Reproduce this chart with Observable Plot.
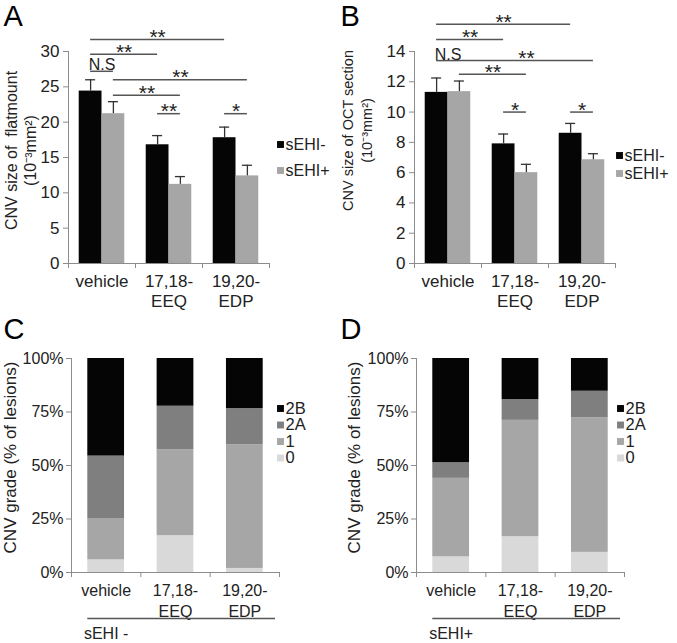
<!DOCTYPE html>
<html><head><meta charset="utf-8">
<script src="https://cdn.jsdelivr.net/npm/d3@7"></script>
<script src="https://cdn.jsdelivr.net/npm/@observablehq/plot@0.6"></script>
<style>
body{margin:0;background:#fff;}
#fig{position:relative;width:677px;height:643px;overflow:hidden;background:#fff;}
#fig svg{position:absolute;}
</style></head><body><div id="fig"></div>
<script>
// ---------- data ----------
const categories = ["vehicle", "17,18-EEQ", "19,20-EDP"];
const series = ["sEHI-", "sEHI+"];
const grades = ["0", "1", "2A", "2B"];
const gradeLegend = ["2B", "2A", "1", "0"];

// Panel A: CNV size of flatmount (10^-3 mm^2)
const flatMinus = [24.4, 16.8, 17.8];
const flatMinusErr = [1.6, 1.3, 1.5];
const flatPlus = [21.2, 11.2, 12.4];
const flatPlusErr = [1.7, 1.1, 1.5];
const flatTicks = [0, 5, 10, 15, 20, 25, 30];
// [category, series] -> [category, series], bracket level, label
const flatSig = [
  [0, 0, 2, 0, 31.7, "**"],
  [0, 0, 1, 0, 29.6, "**"],
  [0, 0, 0, 1, 27.2, "N.S"],
  [0, 1, 2, 1, 26.0, "**"],
  [0, 1, 1, 1, 23.8, "**"],
  [1, 0, 1, 1, 21.2, "**"],
  [2, 0, 2, 1, 21.2, "*"]
];

// Panel B: CNV size of OCT section (10^-3 mm^2)
const octMinus = [11.3, 7.9, 8.6];
const octMinusErr = [0.95, 0.65, 0.65];
const octPlus = [11.35, 6.0, 6.85];
const octPlusErr = [0.7, 0.55, 0.4];
const octTicks = [0, 2, 4, 6, 8, 10, 12, 14];
const octSig = [
  [0, 0, 2, 0, 15.8, "**"],
  [0, 0, 1, 0, 14.8, "**"],
  [0, 0, 0, 1, 13.4, "N.S"],
  [0, 1, 2, 1, 13.4, "**"],
  [0, 1, 1, 1, 12.5, "**"],
  [1, 0, 1, 1, 10.0, "*"],
  [2, 0, 2, 1, 10.0, "*"]
];

// Panel C: CNV grade, sEHI -  (% of lesions), per grade across categories
const cGrade0 = [5.9, 17.2, 1.9];
const cGrade1 = [19.1, 40.1, 57.8];
const cGrade2A = [29.4, 20.4, 16.9];
const cGrade2B = [45.6, 22.3, 23.4];
// Panel D: CNV grade, sEHI +
const dGrade0 = [7.3, 16.7, 9.4];
const dGrade1 = [36.7, 54.4, 62.9];
const dGrade2A = [7.3, 9.7, 12.4];
const dGrade2B = [48.7, 19.2, 15.3];
const pctTicks = [0, 25, 50, 75, 100];

// ---------- style ----------
const FONT = '"Liberation Sans", Arial, Helvetica, sans-serif';
const BLACK = "#050505", GRAY = "#a6a6a6", AX = "#8c8c8c", INK = "#222";
const GRADE_COLORS = ["#d9d9d9", "#a6a6a6", "#7f7f7f", "#050505"];
const BW = 0.34;   // bar width (category units), panels A/B
const CAP = 0.075; // error-bar cap half width
const SW = 0.53;   // stacked bar width, panels C/D
const center = (ci, si) => ci + 0.5 + (si === 0 ? -BW / 2 : BW / 2);

function common(cfg) {
  const {ml, mt, letter, letterX, letterY, title1, title2, t1x, t2x, tcy, titleSize} = cfg;
  const at = (px, py) => ({frameAnchor: "top-left", dx: px - ml, dy: py - mt});
  const marks = [
    Plot.text([letter], {...at(letterX, letterY), text: d => d, textAnchor: "start", lineAnchor: "bottom", fontSize: 29, fill: "#000"}),
    Plot.text([title1], {...at(t1x, tcy), text: d => d, rotate: -90, textAnchor: "middle", lineAnchor: "middle", fontSize: titleSize, fill: INK})
  ];
  if (title2) marks.push(Plot.text([title2], {...at(t2x, tcy), text: d => d, rotate: -90, textAnchor: "middle", lineAnchor: "middle", fontSize: titleSize, fill: INK}));
  return {at, marks};
}

function barPanel(cfg) {
  const {width, height, ml, mr, mt, mb, ymax, ticks, minus, minusErr, plus, plusErr, sig, lx, ly, lgap} = cfg;
  const {at, marks: extra} = common(cfg);
  const rows = categories.flatMap((c, i) => [
    {ci: i, si: 0, v: minus[i], e: minusErr[i]},
    {ci: i, si: 1, v: plus[i], e: plusErr[i]}
  ]);
  const cx = d => center(d.ci, d.si);
  const sigRows = sig.map(([c1, s1, c2, s2, level, label]) => ({x1: center(c1, s1), x2: center(c2, s2), level, label}));
  const marks = [
    Plot.rect(rows.filter(d => d.si === 0), {x1: d => cx(d) - BW / 2, x2: d => cx(d) + BW / 2, y1: 0, y2: "v", fill: BLACK}),
    Plot.rect(rows.filter(d => d.si === 1), {x1: d => cx(d) - BW / 2, x2: d => cx(d) + BW / 2, y1: 0, y2: "v", fill: GRAY}),
    Plot.ruleX(rows, {x: cx, y1: "v", y2: d => d.v + d.e, stroke: "#333", strokeWidth: 1.3}),
    Plot.ruleY(rows, {y: d => d.v + d.e, x1: d => cx(d) - CAP, x2: d => cx(d) + CAP, stroke: "#333", strokeWidth: 1.3}),
    Plot.ruleX([0], {y1: 0, y2: ymax, stroke: AX}),
    Plot.ruleY([0], {x1: 0, x2: 3, stroke: AX}),
    Plot.axisY({ticks, tickSize: 5, tickPadding: 4, stroke: AX, fill: INK, label: null, fontSize: 17}),
    Plot.axisX({ticks: [0, 1, 2, 3], tickSize: 5, tickFormat: () => "", stroke: AX, label: null}),
    Plot.text(categories, {x: (d, i) => i + 0.5, y: 0, text: d => d.replace("-", "-\n"), lineAnchor: "top", dy: 9, lineHeight: 1.2, fill: INK, fontSize: 17}),
    Plot.ruleY(sigRows, {y: "level", x1: "x1", x2: "x2", stroke: "#555", strokeWidth: 1.5}),
    Plot.text(sigRows.filter(d => d.label !== "N.S"), {x: d => (d.x1 + d.x2) / 2, y: "level", text: "label", lineAnchor: "bottom", dy: 4.5, fontSize: 21, fill: INK}),
    Plot.text(sigRows.filter(d => d.label === "N.S"), {x: d => (d.x1 + d.x2) / 2, y: "level", text: "label", lineAnchor: "bottom", dy: -1, fontSize: 16, fill: INK}),
    ...extra
  ];
  series.forEach((s, i) => {
    marks.push(Plot.dot([s], {...at(lx, ly + i * lgap), symbol: "square", r: 3.9, fill: i ? GRAY : BLACK}));
    marks.push(Plot.text([s], {...at(lx + 5, ly + i * lgap), text: d => d, textAnchor: "start", lineAnchor: "middle", fontSize: 16, fill: INK}));
  });
  return Plot.plot({
    width, height, marginLeft: ml, marginRight: mr, marginTop: mt, marginBottom: mb,
    x: {domain: [0, 3]}, y: {domain: [0, ymax]},
    style: {fontFamily: FONT, fontSize: "17px", color: INK, background: "transparent", overflow: "visible"},
    marks
  });
}

function stackPanel(cfg) {
  const {width, height, ml, mr, mt, mb, gradeArrays, groupLabel, lx, ly, lgap} = cfg;
  const {at, marks: extra} = common(cfg);
  const segs = [];
  categories.forEach((c, i) => {
    let acc = 0;
    gradeArrays.forEach((arr, g) => { segs.push({ci: i, g, y1: acc, y2: acc + arr[i]}); acc += arr[i]; });
  });
  const marks = [];
  grades.forEach((gr, g) => {
    marks.push(Plot.rect(segs.filter(d => d.g === g), {x1: d => d.ci + 0.5 - SW / 2, x2: d => d.ci + 0.5 + SW / 2, y1: "y1", y2: "y2", fill: GRADE_COLORS[g]}));
  });
  marks.push(
    Plot.ruleX([0], {y1: 0, y2: 100, stroke: AX}),
    Plot.ruleY([0], {x1: 0, x2: 3, stroke: AX}),
    Plot.axisY({ticks: pctTicks, tickSize: 5, tickPadding: 3, tickFormat: d => d + "%", stroke: AX, fill: INK, label: null, fontSize: 16}),
    Plot.axisX({ticks: [0, 1, 2, 3], tickSize: 5, tickFormat: () => "", stroke: AX, label: null}),
    Plot.text(categories, {x: (d, i) => i + 0.5, y: 0, text: d => d.replace("-", "-\n"), lineAnchor: "top", dy: 9, lineHeight: 1.3, fill: INK, fontSize: 16}),
    Plot.ruleY([0], {x1: 0.5 - SW / 2, x2: 3, insetRight: 4, dy: 46, stroke: "#555", strokeWidth: 1.5}),
    Plot.text([groupLabel], {x: 0.5, y: 0, dy: 61, text: d => d, lineAnchor: "middle", fontSize: 16, fill: INK}),
    ...extra
  );
  gradeLegend.forEach((gr, i) => {
    const g = grades.indexOf(gr);
    marks.push(Plot.dot([gr], {...at(lx, ly + i * lgap), symbol: "square", r: 3.9, fill: GRADE_COLORS[g]}));
    marks.push(Plot.text([gr], {...at(lx + 5, ly + i * lgap), text: d => d, textAnchor: "start", lineAnchor: "middle", fontSize: 16.5, fill: INK}));
  });
  return Plot.plot({
    width, height, marginLeft: ml, marginRight: mr, marginTop: mt, marginBottom: mb,
    x: {domain: [0, 3]}, y: {domain: [0, 100]},
    style: {fontFamily: FONT, fontSize: "16px", color: INK, background: "transparent", overflow: "visible"},
    marks
  });
}

const fig = document.getElementById("fig");
function place(svg, left, top) { svg.style.left = left + "px"; svg.style.top = top + "px"; fig.appendChild(svg); }

place(barPanel({
  width: 337, height: 320, ml: 68, mr: 68, mt: 51, mb: 57, ymax: 30, ticks: flatTicks,
  minus: flatMinus, minusErr: flatMinusErr, plus: flatPlus, plusErr: flatPlusErr, sig: flatSig,
  letter: "A", letterX: 3, letterY: 25,
  title1: "CNV size of  flatmount", title2: "(10\u207B\u00B3mm\u00B2)", t1x: 11, t2x: 30, tcy: 150, titleSize: 16,
  lx: 280, ly: 144, lgap: 26
}), 0, 0);

place(barPanel({
  width: 340, height: 320, ml: 77, mr: 62, mt: 51, mb: 57, ymax: 14, ticks: octTicks,
  minus: octMinus, minusErr: octMinusErr, plus: octPlus, plusErr: octPlusErr, sig: octSig,
  letter: "B", letterX: 3, letterY: 25,
  title1: "CNV size of OCT section", title2: "(10\u207B\u00B3mm\u00B2)", t1x: 11, t2x: 30, tcy: 130, titleSize: 14.5,
  lx: 282, ly: 155, lgap: 18
}), 337, 0);

place(stackPanel({
  width: 337, height: 323, ml: 71, mr: 58, mt: 38, mb: 71,
  gradeArrays: [cGrade0, cGrade1, cGrade2A, cGrade2B], groupLabel: "sEHI -",
  letter: "C", letterX: 3, letterY: 18,
  title1: "CNV grade (% of lesions)", t1x: 10, tcy: 137, titleSize: 17,
  lx: 280, ly: 88, lgap: 16.5
}), 0, 320);

place(stackPanel({
  width: 340, height: 323, ml: 79, mr: 53, mt: 38, mb: 71,
  gradeArrays: [dGrade0, dGrade1, dGrade2A, dGrade2B], groupLabel: "sEHI+",
  letter: "D", letterX: 3, letterY: 18,
  title1: "CNV grade (% of lesions)", t1x: 17, tcy: 137, titleSize: 17,
  lx: 283, ly: 88, lgap: 16.5
}), 337, 320);
</script>
</body></html>
